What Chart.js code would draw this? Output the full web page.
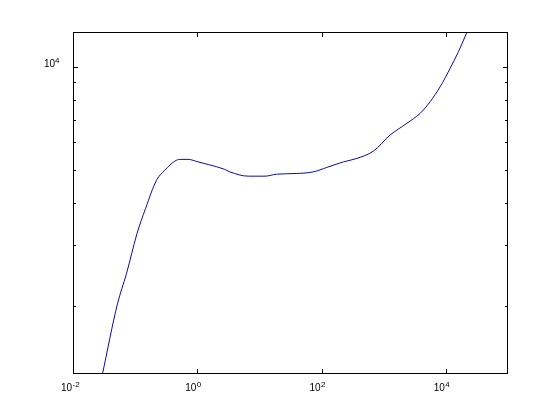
<!DOCTYPE html>
<html>
<head>
<meta charset="utf-8">
<script src="https://cdn.jsdelivr.net/npm/chart.js@4"></script>
<style>
  body { margin: 0; background: #fff; }
  #wrap { width: 560px; height: 420px; }
</style>
</head>
<body>
<div id="wrap"><canvas id="plot" width="560" height="420"></canvas></div>
<script>
// curve samples (log-log)
var xValues = [0.02, 0.0298, 0.0519, 0.0724, 0.107, 0.147, 0.221, 0.301, 0.436, 0.524, 0.713,
	1.03, 1.50, 2.71, 3.35, 6.61, 12.3, 18.9, 39.8, 73.6, 121, 224, 369, 682, 1268,
	2355, 3864, 5598, 8110, 11750, 16000, 21830, 29500];
var yValues = [900, 1262, 2023, 2477, 3246, 3845, 4652, 4980, 5292, 5353, 5353,
	5263, 5171, 5012, 4921, 4781, 4781, 4845, 4868, 4921, 5069, 5263, 5387, 5660, 6306,
	6823, 7302, 7896, 8736, 9892, 11070, 12610, 14450];

var xTicks = [0.01, 1, 100, 10000];
var xTickExp = ['-2', '0', '2', '4'];
var yTicks = [2000, 3000, 4000, 5000, 6000, 7000, 8000, 9000, 10000];
var yMajor = [10000];
var yTickExp = ['4'];

Chart.defaults.font.family = '"Liberation Sans", Arial, sans-serif';
Chart.defaults.color = '#000';

// matlab style box, inward ticks on all four sides and 10^n labels
var matlabBox = {
	id: 'matlabBox',
	afterDraw: function(chart) {
		var ctx = chart.ctx;
		var a = chart.chartArea;
		var xs = chart.scales.x, ys = chart.scales.y;
		ctx.save();
		ctx.strokeStyle = '#000';
		ctx.fillStyle = '#000';
		ctx.lineWidth = 1;
		ctx.strokeRect(Math.round(a.left) + 0.5, Math.round(a.top) + 0.5,
			Math.round(a.right - a.left) - 1, Math.round(a.bottom - a.top) - 1);
		ctx.beginPath();
		xs.ticks.forEach(function(t) {
			var px = Math.round(xs.getPixelForValue(t.value)) + 0.5;
			ctx.moveTo(px, a.bottom); ctx.lineTo(px, a.bottom - 5);
			ctx.moveTo(px, a.top); ctx.lineTo(px, a.top + 5);
		});
		ys.ticks.forEach(function(t) {
			var py = Math.round(ys.getPixelForValue(t.value)) + 0.5;
			var len = yMajor.indexOf(t.value) >= 0 ? 5 : 3;
			ctx.moveTo(a.left, py); ctx.lineTo(a.left + len, py);
			ctx.moveTo(a.right, py); ctx.lineTo(a.right - len, py);
		});
		ctx.stroke();

		ctx.textBaseline = 'alphabetic';
		xTicks.forEach(function(v, i) {
			var px = xs.getPixelForValue(v);
			var base = a.bottom + 17;
			ctx.font = '10px "Liberation Sans", Arial, sans-serif';
			ctx.textAlign = 'right';
			ctx.fillText('10', px - 1, base);
			ctx.font = '8px "Liberation Sans", Arial, sans-serif';
			ctx.textAlign = 'left';
			ctx.fillText(xTickExp[i], px - 0.5, base - 4.5);
		});
		yMajor.forEach(function(v, i) {
			var py = ys.getPixelForValue(v);
			ctx.font = '10px "Liberation Sans", Arial, sans-serif';
			ctx.textAlign = 'right';
			ctx.fillText('10', a.left - 18, py + 0.5);
			ctx.font = '8px "Liberation Sans", Arial, sans-serif';
			ctx.textAlign = 'left';
			ctx.fillText(yTickExp[i], a.left - 18, py - 4);
		});
		ctx.restore();
	}
};

var ctx = document.getElementById('plot').getContext('2d');
var chart = new Chart(ctx, {
	type: 'scatter',
	data: {
		datasets: [{
			data: xValues.map(function(x, i) { return { x: x, y: yValues[i] }; }),
			showLine: true,
			borderColor: '#0a0aa8',
			borderWidth: 1,
			pointRadius: 0,
			cubicInterpolationMode: 'monotone',
			fill: false
		}]
	},
	options: {
		responsive: false,
		animation: false,
		layout: { padding: { top: 32, right: 52, left: 0, bottom: 0 } },
		plugins: {
			legend: { display: false },
			tooltip: { enabled: false }
		},
		scales: {
			x: {
				type: 'logarithmic',
				min: 0.01,
				max: 100000,
				grid: { display: false },
				border: { display: false },
				ticks: { display: false },
				afterFit: function(s) { s.height = 46; },
				afterBuildTicks: function(s) {
					s.ticks = xTicks.map(function(v) { return { value: v }; });
				}
			},
			y: {
				type: 'logarithmic',
				min: 1262,
				max: 12620,
				grid: { display: false },
				border: { display: false },
				ticks: { display: false },
				afterFit: function(s) { s.width = 73; },
				afterBuildTicks: function(s) {
					s.ticks = yTicks.map(function(v) { return { value: v }; });
				}
			}
		}
	},
	plugins: [matlabBox]
});
</script>
</body>
</html>
